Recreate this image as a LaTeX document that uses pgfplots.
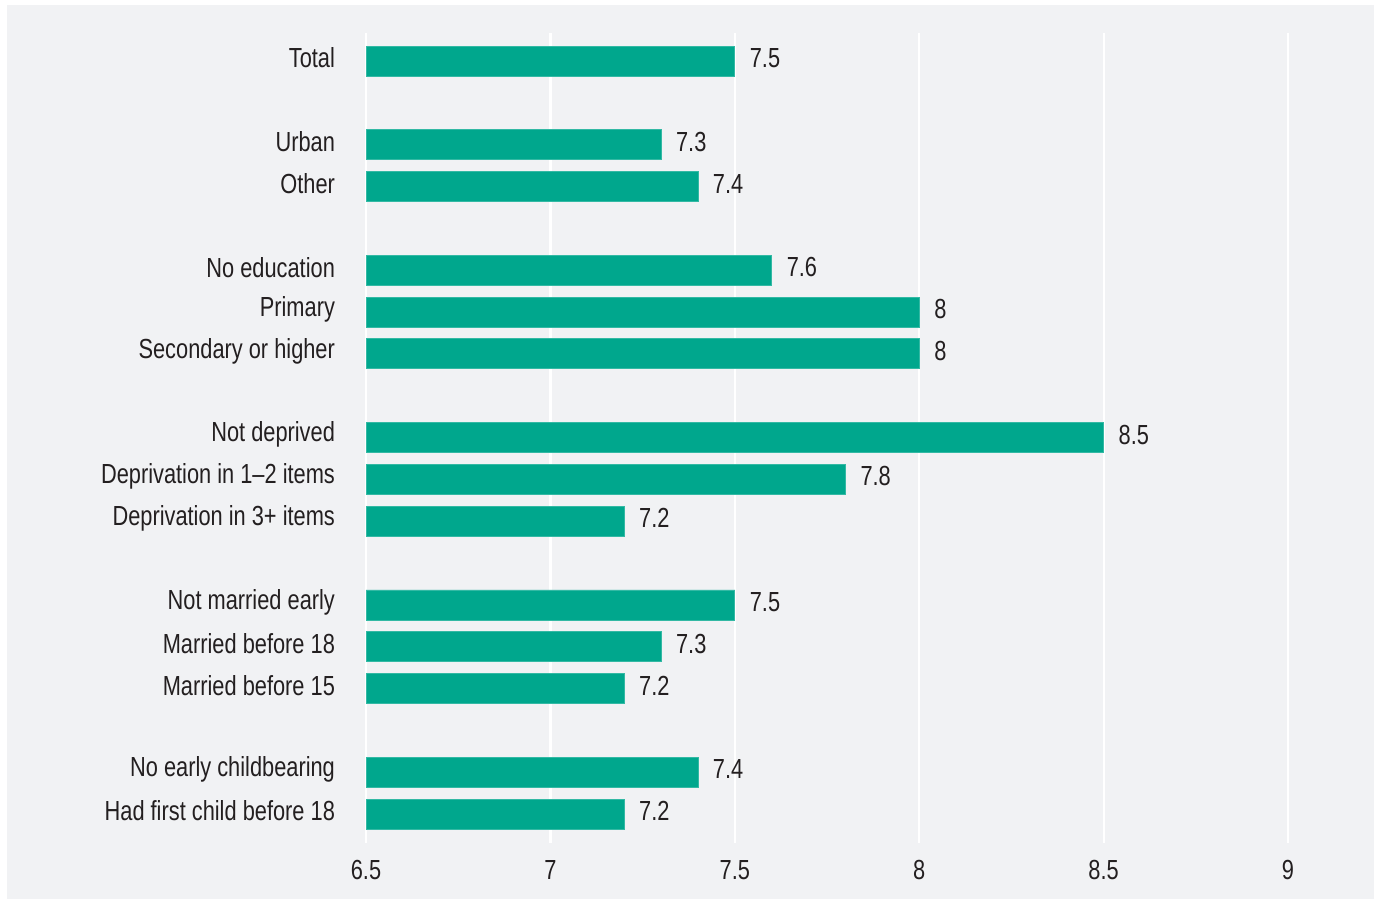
\documentclass[border=0pt]{standalone}
\usepackage{pgfplots}
\pgfplotsset{compat=1.18}
\usepackage{fontspec}
\setmainfont[FakeStretch=0.79]{Liberation Sans}
\definecolor{bg}{HTML}{F1F2F4}
\definecolor{bar}{HTML}{00A78D}
\definecolor{txt}{HTML}{231F20}
\begin{document}
\begin{tikzpicture}
\path[use as bounding box] (0,0) rectangle (687pt,449.5pt);
\fill[white] (0,0) rectangle (687pt,449.5pt);
\fill[bg] (3.5pt,0) rectangle (687pt,447pt);
\begin{axis}[
  at={(183pt,28pt)}, anchor=south west,
  scale only axis,
  width=461pt, height=405pt,
  xmin=6.5, xmax=9,
  ymin=-18.69, ymax=0.67,
  xtick={6.5,7,7.5,8,8.5,9},
  ytick={0,-2,-3,-5,-6,-7,-9,-10,-11,-13,-14,-15,-17,-18},
  yticklabels={Total,Urban,Other,No education,Primary,Secondary or higher,Not deprived,Deprivation in 1–2 items,Deprivation in 3+ items,Not married early,Married before 18,Married before 15,No early childbearing,Had first child before 18},
  axis line style={draw=none},
  major tick length=0pt,
  xmajorgrids,
  grid style={white, line width=1.1pt},
  /pgf/number format/assume math mode=true,
  tick label style={font=\fontsize{13.8}{16}\selectfont, text=txt},
  yticklabel style={xshift=-12pt, yshift=1.5pt},
  xticklabel style={yshift=-5pt},
  xbar, bar width=15pt, bar shift=0pt,
  nodes near coords,
  nodes near coords style={font=\fontsize{13.8}{16}\selectfont, text=txt, anchor=west, xshift=4pt, yshift=1.5pt},
  point meta=explicit symbolic,
]
\addplot[fill=bar, draw=bar!80!white, line width=0.4pt] table[meta=v] {
x y v
7.5 0 7.5
7.3 -2 7.3
7.4 -3 7.4
7.6 -5 7.6
8 -6 8
8 -7 8
8.5 -9 8.5
7.8 -10 7.8
7.2 -11 7.2
7.5 -13 7.5
7.3 -14 7.3
7.2 -15 7.2
7.4 -17 7.4
7.2 -18 7.2
};
\end{axis}
\end{tikzpicture}
\end{document}
